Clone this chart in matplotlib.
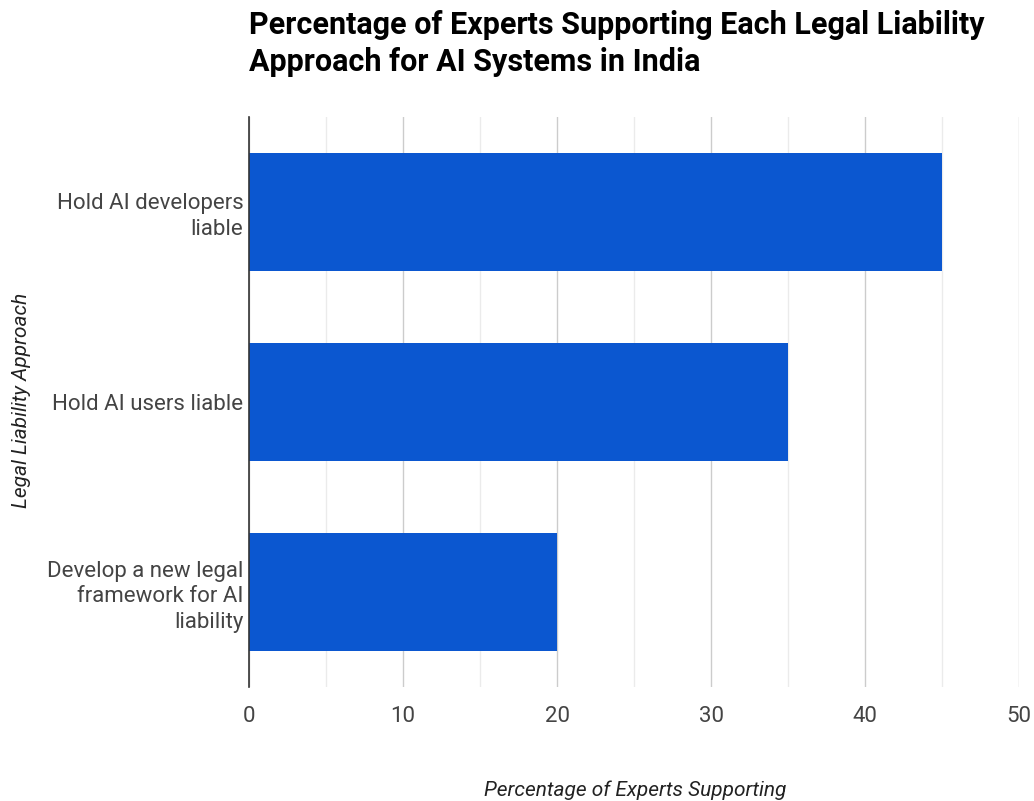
import matplotlib.pyplot as plt
from matplotlib.ticker import MultipleLocator

# data
approaches = ['Hold AI developers\nliable', 'Hold AI users liable',
              'Develop a new legal\nframework for AI\nliability']
support = [45, 35, 20]

plt.rcParams['font.family'] = ['Roboto', 'DejaVu Sans']

fig = plt.figure(figsize=(10.34, 8.01), dpi=100)
ax = fig.add_axes([249/1034, 1-687/801, (1019-249)/1034, (687-117)/801])

ypos = list(range(len(approaches)))
ax.barh(ypos, support, height=0.62, color='#0b57d0', zorder=3)
ax.set_ylim(len(approaches)-0.5, -0.5)
ax.set_xlim(0, 50)
ax.set_yticks(ypos)
ax.set_yticklabels(approaches, fontsize=16, color='#444444', linespacing=1.3)

ax.xaxis.set_major_locator(MultipleLocator(10))
ax.xaxis.set_minor_locator(MultipleLocator(5))
ax.grid(axis='x', which='major', color='#cccccc', lw=1, zorder=0)
ax.grid(axis='x', which='minor', color='#ebebeb', lw=1, zorder=0)
ax.tick_params(axis='both', which='both', length=0)
ax.tick_params(axis='x', labelsize=16, labelcolor='#444444', pad=14)
ax.tick_params(axis='y', pad=4)
for s in ['top', 'right', 'bottom']:
    ax.spines[s].set_visible(False)
ax.spines['left'].set_color('#333333')
ax.spines['left'].set_linewidth(1.2)
ax.spines['left'].set_zorder(4)

fig.text(635/1034, 1-790/801, 'Percentage of Experts Supporting', ha='center', va='center',
         fontsize=15, style='italic', color='#222222')
fig.text(22/1034, 1-400/801, 'Legal Liability Approach', ha='center', va='center',
         rotation=90, fontsize=15, style='italic', color='#222222')
fig.text(249/1034, 1-10/801, 'Percentage of Experts Supporting Each Legal Liability\nApproach for AI Systems in India',
         ha='left', va='top', fontsize=22, fontweight='bold', color='#000000', linespacing=1.28)

plt.savefig('out.png', dpi=100)
